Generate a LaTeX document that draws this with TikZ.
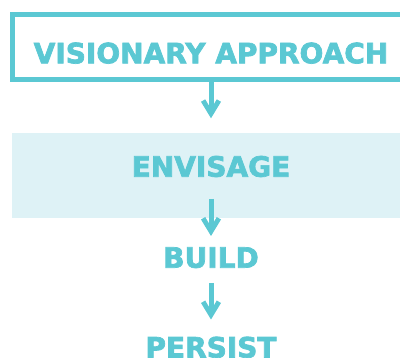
\documentclass[tikz,border=0pt]{standalone}
\usepackage{fontspec}
\setmainfont{DejaVu Sans}
\newfontfamily\lblfont{DejaVu Sans}[UprightFont={* Bold},FakeBold=2.5]
\definecolor{teal1}{HTML}{5BC8D3}
\definecolor{lightfill}{HTML}{DEF2F6}
\begin{document}
\begin{tikzpicture}[x=1pt,y=-1pt,
  lbl/.style={text=teal1, font=\fontsize{28}{30}\selectfont\lblfont, inner sep=0pt, anchor=base},
  conn/.style={draw=teal1, line width=5pt, shorten >=9pt},
  chev/.pic={\fill[teal1] (0,0) -- (-10,-16.5) -- (-5.8,-19) -- (0,-9.3) -- (5.8,-19) -- (10,-16.5) -- cycle;}]
\useasboundingbox (0,0) rectangle (400,358);
\clip (0,0) rectangle (400,358);
% light band
\fill[lightfill] (12,133) rectangle (420,218);
% outlined box (open past right edge)
\draw[teal1, line width=5pt] (420,14.5) -- (12.5,14.5) -- (12.5,79.5) -- (420,79.5);
\node[lbl] (va) at (211,63.3) {VISIONARY APPROACH};
\node[lbl] (env) at (211,176.7) {ENVISAGE};
\node[lbl] (build) at (211,267.7) {BUILD};
\node[lbl] (persist) at (211,357.5) {PERSIST};
\coordinate (a1s) at (211,82);
\coordinate (a1e) at (211,118.3);
\coordinate (a2s) at (211,199);
\coordinate (a2e) at (211,236);
\coordinate (a3s) at (211,283);
\coordinate (a3e) at (211,319.5);
\draw[conn] (a1s) -- (a1e);
\draw[conn] (a2s) -- (a2e);
\draw[conn] (a3s) -- (a3e);
\pic at (a1e) {chev};
\pic at (a2e) {chev};
\pic at (a3e) {chev};
\end{tikzpicture}
\end{document}
